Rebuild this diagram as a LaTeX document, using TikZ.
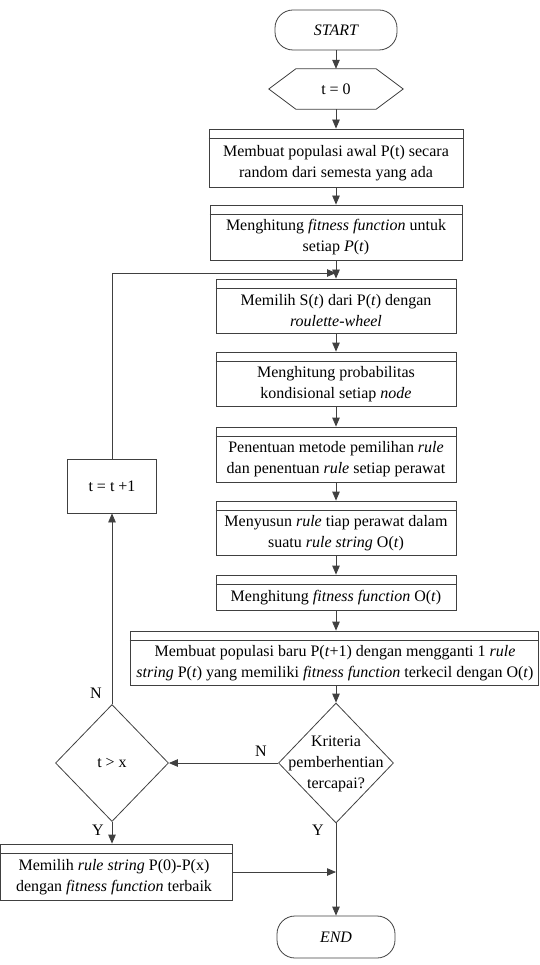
\documentclass[tikz,border=0pt]{standalone}
\usepackage{fontspec}
\setmainfont{Liberation Serif}
\usetikzlibrary{arrows.meta,shapes.geometric}
\begin{document}
\begin{tikzpicture}[x=1pt,y=-1pt,
  line/.style={draw=black!75, line width=0.8pt},
  arr/.style={line, -{Triangle[length=9pt,width=7.5pt]}},
  box/.style={line, rectangle, inner sep=0pt},
  txt/.style={align=center, inner sep=0pt, font=\fontsize{16}{21}\selectfont},
  term/.style={box, rounded corners=18pt, font=\fontsize{16}{21}\selectfont\itshape},
  dec/.style={line, diamond, inner sep=0pt, font=\fontsize{16}{21}\selectfont},
  lbl/.style={inner sep=0pt, font=\fontsize{16}{21}\selectfont}
]
\useasboundingbox (0,0) rectangle (539,965);

% terminals
\node[term, minimum width=122pt, minimum height=40pt] (start) at (336,30) {START};
\node[term, minimum width=118pt, minimum height=42pt] (end) at (336,937) {END};

% preparation (hexagon)
\node[txt, minimum width=134pt, minimum height=40pt] (t0) at (336,89) {t = 0};
\draw[line] (t0.west) -- ([xshift=27pt]t0.north west) -- ([xshift=-27pt]t0.north east)
  -- (t0.east) -- ([xshift=-27pt]t0.south east) -- ([xshift=27pt]t0.south west) -- cycle;

% process boxes
\node[box, minimum width=254pt, minimum height=58pt] (b1) at (336,158) {};
\node[txt] (x1) at (336,163) {Membuat populasi awal P(t) secara\\random dari semesta yang ada};

\node[box, minimum width=252pt, minimum height=55pt] (b2) at (336,232.5) {};
\node[txt] (x2) at (336,237.5) {Menghitung \textit{fitness function} untuk\\setiap \textit{P}(\textit{t})};

\node[box, minimum width=240pt, minimum height=54pt] (b3) at (336,306) {};
\node[txt] (x3) at (336,311) {Memilih S(\textit{t}) dari P(\textit{t}) dengan\\\textit{roulette-wheel}};

\node[box, minimum width=240pt, minimum height=54pt] (b4) at (336,379) {};
\node[txt] (x4) at (336,384) {Menghitung probabilitas\\kondisional setiap \textit{node}};

\node[box, minimum width=240pt, minimum height=55pt] (b5) at (336,454.5) {};
\node[txt] (x5) at (336,459.5) {Penentuan metode pemilihan \textit{rule}\\dan penentuan \textit{rule} setiap perawat};

\node[box, minimum width=240pt, minimum height=54pt] (b6) at (336,528) {};
\node[txt] (x6) at (336,533) {Menyusun \textit{rule} tiap perawat dalam\\suatu \textit{rule string} O(\textit{t})};

\node[box, minimum width=240pt, minimum height=35pt] (b7) at (336,592.5) {};
\node[txt] (x7) at (336,597.5) {Menghitung \textit{fitness function} O(\textit{t})};

\node[box, minimum width=408pt, minimum height=54pt] (b8) at (334,658) {};
\node[txt] (x8) at (335,663) {Membuat populasi baru P(\textit{t}+1) dengan mengganti 1 \textit{rule}\\\textit{string} P(\textit{t}) yang memiliki \textit{fitness function} terkecil dengan O(\textit{t})};

\node[box, minimum width=231.5pt, minimum height=56pt] (b9) at (116.25,872) {};
\node[txt] (x9) at (114,877) {Memilih \textit{rule string} P(0)-P(x)\\dengan \textit{fitness function} terbaik};

\foreach \n in {b1,b2,b3,b4,b5,b6,b7,b8,b9}
  \draw[line] ([yshift=-10pt]\n.north west) -- ([yshift=-10pt]\n.north east);

% t = t + 1
\node[box, minimum width=89pt, minimum height=54pt, font=\fontsize{16}{21}\selectfont] (tinc) at (112,486) {t = t +1};

% decisions
\node[dec, minimum width=115pt, minimum height=120pt] (krit) at (336,763) {};
\node[txt] (kt) at (336,764) {Kriteria\\pemberhentian\\tercapai?};
\node[dec, minimum width=113pt, minimum height=117pt] (tgx) at (112,763) {t > x};

% junctions
\coordinate (j) at (336,273);
\coordinate (m) at (336,872);

% connectors
\draw[arr] (start) -- (t0);
\draw[arr] (t0) -- (b1);
\draw[arr] (b1) -- (b2);
\draw[arr] (b2) -- (b3);
\draw[arr] (tinc.north) |- (j);
\draw[arr] (b3) -- (b4);
\draw[arr] (b4) -- (b5);
\draw[arr] (b5) -- (b6);
\draw[arr] (b6) -- (b7);
\draw[arr] (b7.south) -- (b7.south |- b8.north);
\draw[arr] (b7.south |- b8.south) -- (krit.north);
\draw[arr] (krit.west) -- (tgx.east);
\draw[arr] (tgx.north) -- (tinc.south);
\draw[arr] (tgx.south) -- (tgx.south |- b9.north);
\draw[arr] (krit.south) -- (end.north);
\draw[arr] (b9.east) -- (m);

% labels
\node[lbl] (ln1) at (261,751) {N};
\node[lbl] (ln2) at (96,693) {N};
\node[lbl] (ly1) at (98,830) {Y};
\node[lbl] (ly2) at (318,830) {Y};
\end{tikzpicture}
\end{document}
